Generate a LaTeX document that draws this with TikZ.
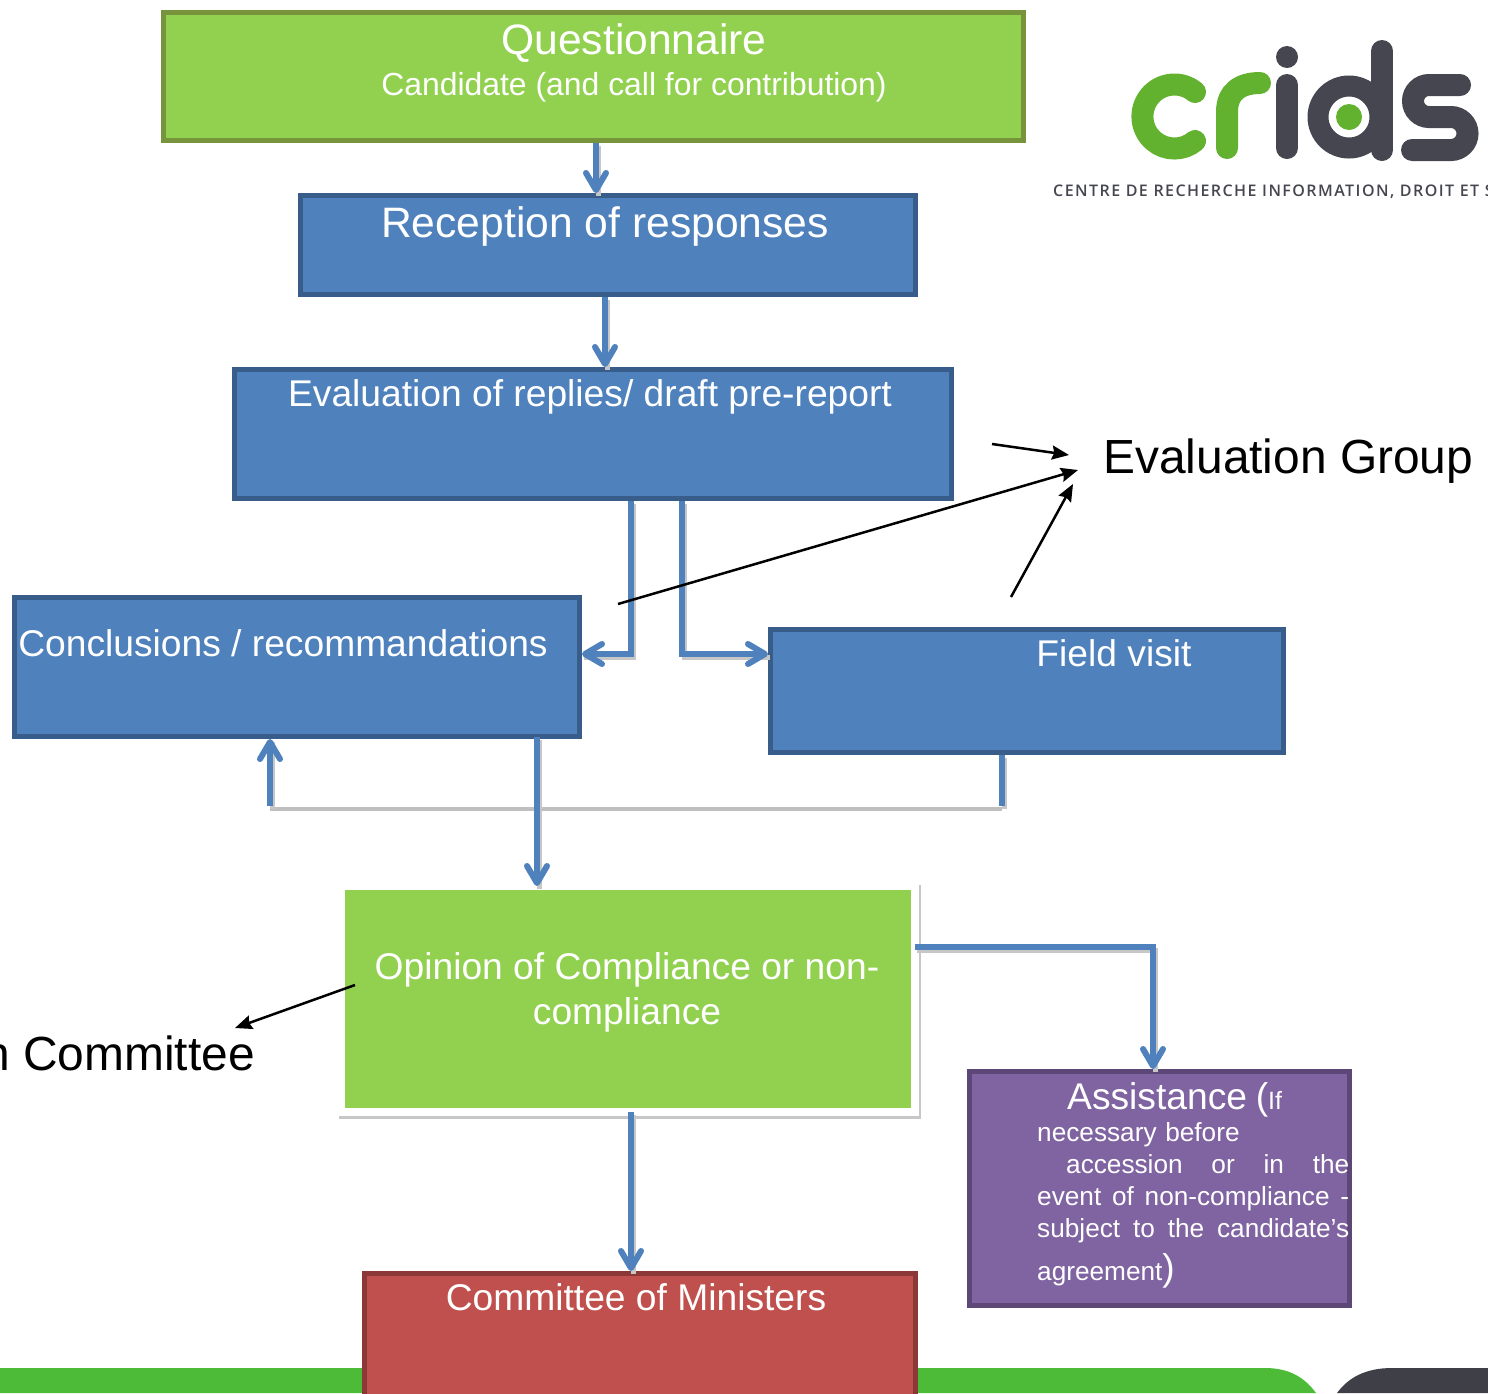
\documentclass[tikz,border=0pt]{standalone}
\usepackage{fontspec}
\setmainfont{Liberation Sans}
\newfontfamily\logofont[LetterSpace=9]{Open Sans Semibold}
\usetikzlibrary{arrows.meta,positioning}
\definecolor{bandgreen}{HTML}{4DBB38}
\definecolor{boxgreen}{HTML}{92D14F}
\definecolor{edgegreen}{HTML}{77933C}
\definecolor{boxblue}{HTML}{4F81BD}
\definecolor{edgeblue}{HTML}{385D8A}
\definecolor{boxpurple}{HTML}{8064A2}
\definecolor{edgepurple}{HTML}{5C4776}
\definecolor{boxred}{HTML}{C0504D}
\definecolor{edgered}{HTML}{8C3836}
\definecolor{logogreen}{HTML}{62B22F}
\definecolor{logodark}{HTML}{45464F}
\newcommand{\fs}[1]{\fontsize{#1}{#1}\selectfont}
\begin{document}
\begin{tikzpicture}
	[x=1pt,y=-1pt,
	box/.style={draw,line width=5pt,inner sep=0pt,minimum width=#1},
	lbl/.style={text=white,inner sep=0pt,align=center},
	flow/.style={line width=5.5pt,draw=boxblue,-{Straight Barb[length=17pt,width=20pt,line width=6pt,round]},
		preaction={draw=black!22,line width=5pt,-,transform canvas={shift={(2pt,-3pt)}}}},
	stub/.style={line width=5.5pt,draw=boxblue,
		preaction={draw=black!22,line width=5pt,transform canvas={shift={(2pt,-3pt)}}}},
	ghost/.style={line width=4.5pt,draw=black!25},
	note/.style={black,line width=2.5pt,-{Stealth[inset=2pt,length=17pt,width=14pt]}},
	glyph/.style={line width=22pt,line cap=round,draw=logodark}]
	\useasboundingbox (0,0) rectangle (1488,1393);
	% bottom band
	\fill[bandgreen] (0,1368) -- (1265,1368) .. controls (1290,1368) and (1305,1378) .. (1316,1393) -- (0,1393) -- cycle;
	\fill[logodark!90!black] (1488,1368) -- (1392,1368) .. controls (1365,1368) and (1348,1378) .. (1337,1393) -- (1488,1393) -- cycle;
	% boxes
	\node[box=860pt,draw=edgegreen,fill=boxgreen,minimum height=128pt] (quest) at (593.5,76.5) {};
	\node[box=615pt,draw=edgeblue,fill=boxblue,minimum height=99pt] (recep) at (608,245) {};
	\node[box=717pt,draw=edgeblue,fill=boxblue,minimum height=129pt] (evalu) at (593,434) {};
	\node[box=565pt,draw=edgeblue,fill=boxblue,minimum height=139pt] (concl) at (297,667) {};
	\node[box=513pt,draw=edgeblue,fill=boxblue,minimum height=123pt] (field) at (1027,691) {};
	\node[box=574pt,draw=black!22,line width=8pt,fill=black!22,minimum height=226pt] (opinshade) at (630,1002) {};
	\node[box=574pt,draw=white,line width=8pt,fill=boxgreen,minimum height=226pt] (opin) at (628,999) {};
	\node[box=380pt,draw=edgepurple,fill=boxpurple,minimum height=234pt] (assist) at (1159.5,1188.5) {};
	\node[box=551pt,draw=edgered,fill=boxred,minimum height=140pt] (minis) at (640,1343.5) {};
	% texts
	\node[lbl] (questT) at (634,43) {\fs{42.6}Questionnaire};
	\node[lbl] (candT) at (634,87) {\fs{31.9}Candidate (and call for contribution)};
	\node[lbl] (recepT) at (605,226) {\fs{42.6}Reception of responses};
	\node[lbl] (evaluT) at (590,397) {\fs{37.2}Evaluation of replies/ draft pre-report};
	\node[lbl] (conclT) at (283,643) {\fs{37.2}Conclusions / recommandations};
	\node[lbl] (fieldT) at (1114,653) {\fs{37.2}Field visit};
	\node[lbl,font=\fontsize{37.2}{45}\selectfont] (opinT) at (627,992) {Opinion of Compliance or non-\\compliance};
	\node[lbl] (minisT) at (636,1297) {\fs{37.2}Committee of Ministers};
	\node[text=white,inner sep=0pt,anchor=north west,text width=312pt,font=\fontsize{26.2}{32}\selectfont] (assistT) at (1037,1082) {
		\hspace*{30pt}{\fs{37.2}Assistance (}{\fs{25}If}\\
		necessary before\\
		\hspace*{29pt}\hbox to 283pt{accession\hfill or\hfill in\hfill the}\\
		\leavevmode\hbox to 312pt{event\hfill of\hfill non-compliance\hfill -}\\
		\leavevmode\hbox to 312pt{subject\hfill to\hfill the\hfill candidate’s}\\[10pt]
		agreement{\fs{37.2})}};
	\node[inner sep=0pt,anchor=west] (evalgroup) at (1103,461) {\fs{47.9}Evaluation Group};
	\node[inner sep=0pt,anchor=east] (evalcom) at (255,1053) {\fs{47.9}n Committee};
	% connectors
	\coordinate (a1) at (596,143);
	\coordinate (a2) at (596,193);
	\coordinate (b1) at (605,297);
	\coordinate (b2) at (605,367);
	\coordinate (c1) at (631,501);
	\coordinate (c2) at (582,654);
	\coordinate (d1) at (682,501);
	\coordinate (d2) at (768,654);
	\coordinate (e1) at (1002,755);
	\coordinate (e2) at (1002,806);
	\coordinate (e3) at (270,806);
	\coordinate (e4) at (270,739);
	\coordinate (f1) at (537,737);
	\coordinate (f2) at (537,886);
	\coordinate (g1) at (915,947);
	\coordinate (g2) at (1153,1069);
	\coordinate (h1) at (631,1112);
	\coordinate (h2) at (631,1271);
	\draw[flow] (a1) -- (a2);
	\draw[flow] (b1) -- (b2);
	\draw[flow] (c1) |- (c2);
	\draw[flow] (d1) |- (d2);
	\draw[ghost] ([yshift=-3pt]e2) -- ([yshift=-3pt]e3);
	\draw[stub] (e1) -- (e2);
	\draw[flow] (e3) -- (e4);
	\draw[flow] (f1) -- (f2);
	\draw[flow] (g1) -| (g2);
	\draw[flow] (h1) -- (h2);
	\coordinate (n1) at (992,444);
	\coordinate (n2) at (1069,455);
	\coordinate (n3) at (618,604);
	\coordinate (n4) at (1078,470);
	\coordinate (n5) at (1011,597);
	\coordinate (n6) at (1073,484);
	\coordinate (n7) at (355,985);
	\coordinate (n8) at (235,1028);
	\draw[note] (n1) -- (n2);
	\draw[note] (n3) -- (n4);
	\draw[note] (n5) -- (n6);
	\draw[note] (n7) -- (n8);
	% logo
	\draw[glyph,draw=logogreen] (1195,92) arc[start angle=-50,end angle=-310,radius=32];
	\draw[glyph,draw=logogreen] (1227,148) -- (1227,112) .. controls (1227,92) and (1240,83) .. (1260,83);
	\draw[glyph] (1287,85) -- (1287,148);
	\fill[logodark] (1287,57) circle[radius=11];
	\draw[glyph,line width=21pt] (1349,117) circle[radius=31];
	\fill[logogreen] (1349,117) circle[radius=13];
	\draw[glyph] (1382,51) -- (1382,150);
	\draw[glyph] (1460,85) -- (1429,85) arc[start angle=-90,end angle=-270,radius=16] -- (1451,117) arc[start angle=-90,end angle=90,radius=16.5] -- (1412,150);
	\node[inner sep=0pt,anchor=west,text=logodark] (logotext) at (1053,192) {\logofont\fs{16}CENTRE DE RECHERCHE INFORMATION, DROIT ET S};
\end{tikzpicture}
\end{document}
